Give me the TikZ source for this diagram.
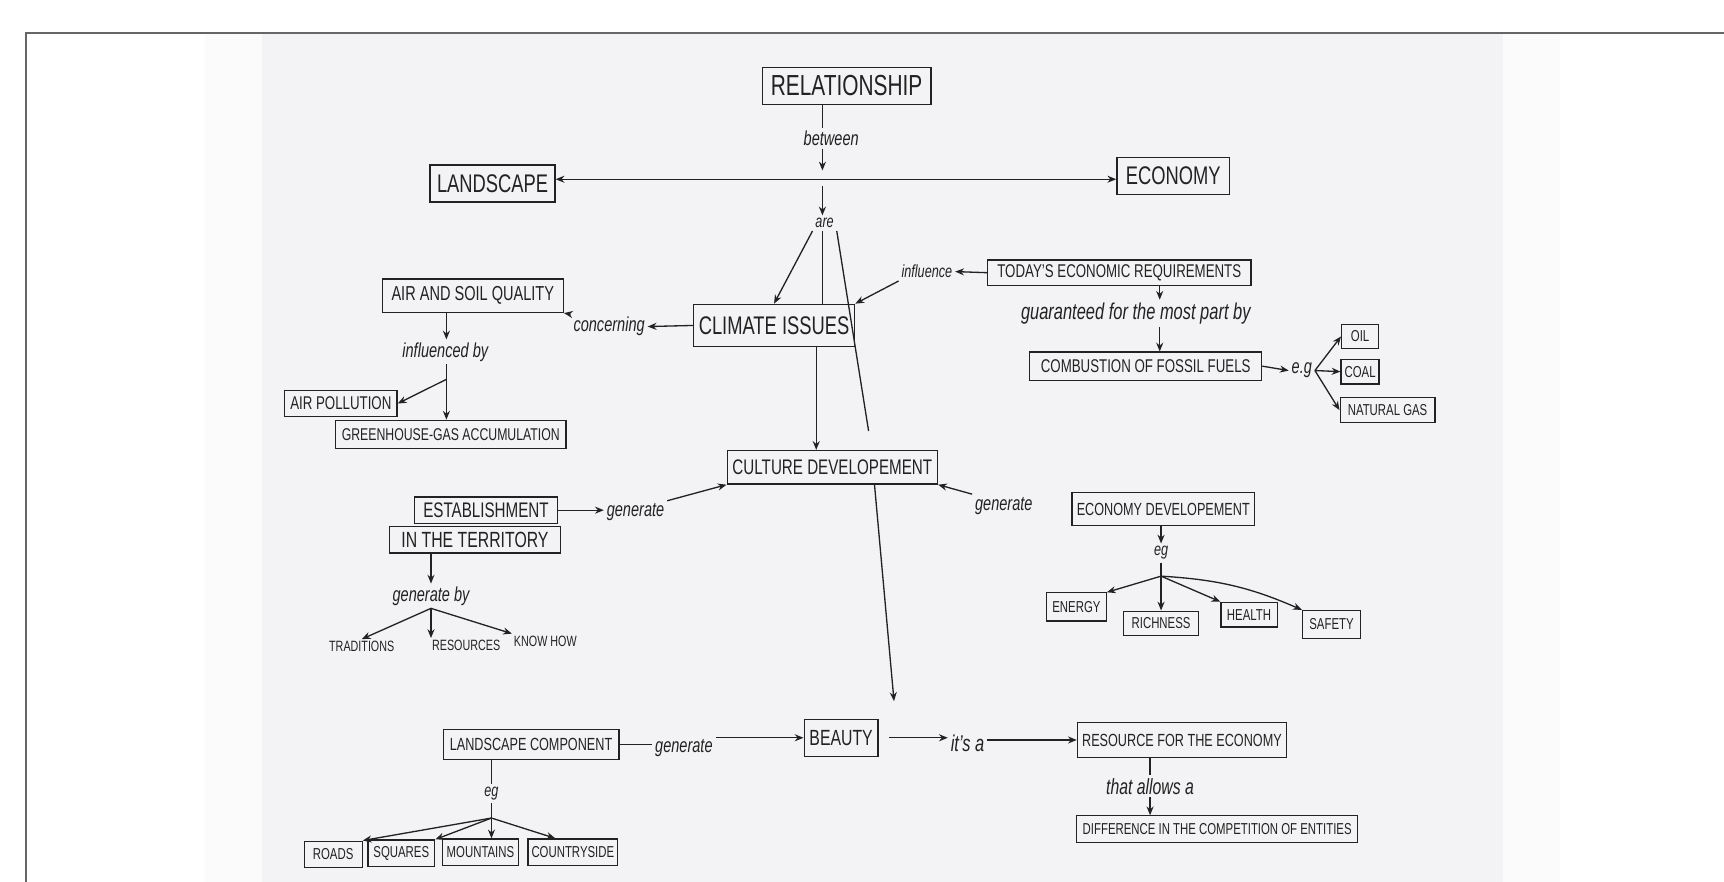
\documentclass[tikz,border=0pt]{standalone}
\usepackage{fontspec}
\setmainfont{Liberation Sans}[FakeStretch=0.72]
\usepackage{tikz}
\usetikzlibrary{positioning, arrows.meta}
\definecolor{pen}{HTML}{222222}
\definecolor{paper}{HTML}{F3F3F5}
\definecolor{paperedge}{HTML}{FBFBFB}
\definecolor{framegray}{HTML}{666666}

\begin{document}
\begin{tikzpicture}[
    x=0.02199cm, y=-0.02199cm,
    bigbox/.style={draw=pen, line width=0.8pt, text=pen, font=\fontsize{14.5}{16}\selectfont, inner sep=3pt, minimum height=21pt},
    box/.style={draw=pen, line width=0.7pt, text=pen, font=\fontsize{10.5}{12}\selectfont, inner sep=2.5pt, minimum height=16pt},
    smallbox/.style={box, font=\fontsize{9}{10}\selectfont, inner sep=2pt, minimum height=14pt},
    word/.style={text=pen, font=\itshape\fontsize{11.5}{13}\selectfont, inner sep=1.5pt},
    caps/.style={text=pen, font=\fontsize{8.5}{10}\selectfont, inner sep=1pt},
    edge/.style={-{Stealth[length=5pt, width=4pt]}, line width=0.75pt, pen},
    plainline/.style={line width=0.75pt, pen}
]
\useasboundingbox (0,0) rectangle (1568,802);

% Sheet of paper in the frame
\fill[white] (0,0) rectangle (1568,802);
\fill[paperedge] (186,31) rectangle (1419,802);
\fill[paper] (238,31) rectangle (1367,802);
\draw[framegray, line width=1.1pt] (23.6,802) -- (23.6,30) -- (1568,30);

% Top: relationship between landscape and economy
\node[bigbox, font=\fontsize{16.5}{18}\selectfont, minimum width=96pt] (rel) at (770,78) {RELATIONSHIP};
\node[word] (between) at (756,126) {between};
\coordinate (mid) at (748,163);
\node[bigbox, minimum width=71pt] (land) at (448,167) {LANDSCAPE};
\node[bigbox, minimum width=64pt] (econ) at (1067,160) {ECONOMY};
\node[word, font=\itshape\fontsize{10}{12}\selectfont] (are) at (750,203) {are};

% Climate issues
\node[bigbox, minimum width=91pt, minimum height=24pt] (climate) at (704,296) {CLIMATE ISSUES};
\node[word] (concern) at (554,297) {concerning};
\node[box, font=\fontsize{11.5}{13}\selectfont, minimum width=103pt, minimum height=19pt] (air) at (430,269) {AIR AND SOIL QUALITY};
\node[word] (inflby) at (405,320) {influenced by};
\coordinate (fork1) at (406,345);
\node[box, minimum width=64pt, minimum height=15pt] (pollu) at (310,367) {AIR POLLUTION};
\node[box, font=\fontsize{9.7}{11}\selectfont, minimum width=131pt] (green) at (410,395) {GREENHOUSE-GAS ACCUMULATION};

% Economic requirements
\node[box, minimum width=150pt, minimum height=14.5pt] (today) at (1018,248) {TODAY'S ECONOMIC REQUIREMENTS};
\node[word, font=\itshape\fontsize{10}{12}\selectfont] (infl) at (843,247) {influence};
\node[word, font=\itshape\fontsize{13}{15}\selectfont] (guar) at (1033,285) {guaranteed for the most part by};
\node[box, minimum width=132pt] (comb) at (1042,333) {COMBUSTION OF FOSSIL FUELS};
\node[word] (eg1) at (1184,337) {e.g};
\node[smallbox, minimum width=21pt] (oil) at (1237,306) {OIL};
\node[smallbox, minimum width=20pt] (coal) at (1237,338) {COAL};
\node[smallbox, minimum width=54pt] (gas) at (1262,373) {NATURAL GAS};

% Culture developement
\node[bigbox, font=\fontsize{12}{14}\selectfont, minimum width=118pt, minimum height=19pt] (cult) at (757,425) {CULTURE DEVELOPEMENT};
\coordinate (areend) at (790,392);
\node[box, font=\fontsize{12}{14}\selectfont, minimum width=81pt, minimum height=15pt] (estab) at (442,464) {ESTABLISHMENT};
\node[box, font=\fontsize{12.5}{14}\selectfont, minimum width=97pt, minimum height=15pt] (terr) at (432,491) {IN THE TERRITORY};
\node[word] (gen1) at (578,466) {generate};
\node[word] (gen2) at (913,460) {generate};
\node[word] (genby) at (392,542) {generate by};
\node[caps] (trad) at (329,588) {TRADITIONS};
\node[caps] (reso) at (424,587) {RESOURCES};
\node[caps] (know) at (496,583) {KNOW HOW};

% Economy developement
\node[box, font=\fontsize{10}{12}\selectfont, minimum width=104pt, minimum height=19pt] (ecodev) at (1058,463) {ECONOMY DEVELOPEMENT};
\node[word, font=\itshape\fontsize{10}{12}\selectfont] (eg2) at (1056,503) {eg};
\coordinate (fork2) at (1056,524);
\node[smallbox, minimum width=34pt, minimum height=16pt] (energy) at (979,552) {ENERGY};
\node[smallbox, minimum width=43pt] (rich) at (1056,567) {RICHNESS};
\node[smallbox, minimum width=32pt] (health) at (1136,559) {HEALTH};
\node[smallbox, minimum width=33pt, minimum height=16pt] (safety) at (1211,568) {SAFETY};

% Beauty
\node[bigbox, font=\fontsize{12.5}{14}\selectfont, minimum width=42pt] (beauty) at (765,671) {BEAUTY};
\node[box, font=\fontsize{10}{12}\selectfont, minimum width=100pt, minimum height=17pt] (lcomp) at (483,677) {LANDSCAPE COMPONENT};
\node[word] (gen3) at (622,680) {generate};
\node[word, font=\itshape\fontsize{13}{15}\selectfont] (itsa) at (880,676) {it's a};
\node[box, font=\fontsize{10}{12}\selectfont, minimum width=119pt, minimum height=20pt] (resou) at (1075,673) {RESOURCE FOR THE ECONOMY};
\node[word, font=\itshape\fontsize{12.5}{14}\selectfont] (allows) at (1046,715) {that allows a};
\node[smallbox, minimum width=160pt, minimum height=15pt] (diff) at (1107,754) {DIFFERENCE IN THE COMPETITION OF ENTITIES};
\node[word, font=\itshape\fontsize{10}{12}\selectfont] (eg3) at (447,722) {eg};
\coordinate (fork3) at (447,744);
\node[smallbox, minimum width=33pt, minimum height=15pt] (roads) at (303,777) {ROADS};
\node[smallbox, minimum width=38pt, minimum height=15pt] (squares) at (365,776) {SQUARES};
\node[smallbox, minimum width=43pt, minimum height=15pt] (mount) at (437,775) {MOUNTAINS};
\node[smallbox, minimum width=51pt, minimum height=15pt] (country) at (521,775) {COUNTRYSIDE};

% Edges
\draw[plainline] (rel.south -| mid) -- (between.north -| mid);
\draw[edge] (between.south -| mid) -- ([yshift=5pt]mid);
\draw[edge] (mid) -- (land.east |- mid);
\draw[edge] (mid) -- (econ.west |- mid);
\draw[edge] ([yshift=-4pt]mid) -- (are.north -| mid);
\draw[edge] (are.south west) -- (climate.north);
\draw[plainline] (are.south -| mid) -- (climate.north -| mid);
\draw[plainline] (are.south east) -- (areend);
\draw[edge] ([xshift=24pt]climate.south) -- ([xshift=24pt]climate.south |- cult.north);
\draw[edge] (today.west) -- (infl.east);
\draw[edge] (infl.south west) -- (climate.north east);
\draw[edge] ([xshift=23pt]today.south) -- ([xshift=23pt]today.south |- guar.north);
\draw[edge] ([xshift=8pt]comb.north |- guar.south) -- ([xshift=8pt]comb.north);
\draw[edge] (comb.east) -- (eg1.west);
\draw[edge] (eg1.east) -- (oil.west);
\draw[edge] (eg1.east) -- (coal.west);
\draw[edge] (eg1.east) -- (gas.west);
\draw[edge] (climate.west) -- (concern.east);
\draw[edge] (concern.north west) -- (air.south east);
\draw[edge] (air.south -| fork1) -- (inflby.north -| fork1);
\draw[plainline] (inflby.south -| fork1) -- (fork1);
\draw[edge] (fork1) -- (pollu.east);
\draw[edge] (fork1) -- (green.north -| fork1);
\draw[edge] (estab.east) -- (estab.east -| gen1.west);
\draw[edge] (gen1.north east) -- (cult.south west);
\draw[edge] (gen2.north west) -- (cult.south east);
\draw[edge] (terr.south -| genby) -- (genby.north);
\draw[edge] (genby.south) -- (trad.north);
\draw[edge] (genby.south) -- (reso.north -| genby.south);
\draw[edge] (genby.south) -- (know.north west);
\draw[edge] (ecodev.south -| eg2) -- (eg2.north);
\draw[plainline] (eg2.south) -- (fork2);
\draw[edge] (fork2) -- (energy.north east);
\draw[edge] (fork2) -- (rich.north);
\draw[edge] (fork2) -- (health.north west);
\draw[edge] (fork2) to[bend left=10] (safety.north west);
\draw[edge, shorten >=10pt] ([xshift=24pt]cult.south) -- ([xshift=31pt]beauty.north);
\draw[plainline] (lcomp.east) -- (lcomp.east -| gen3.west);
\draw[edge] (gen3.east |- beauty) -- (beauty.west);
\draw[edge, shorten <=6pt] (beauty.east) -- (beauty.east -| itsa.west);
\draw[edge] (itsa.east |- resou) -- (resou.west);
\draw[plainline] (resou.south -| allows) -- (allows.north);
\draw[edge] (allows.south) -- (diff.north -| allows);
\draw[plainline] (lcomp.south -| eg3) -- (eg3.north);
\draw[plainline] (eg3.south) -- (fork3);
\draw[edge] (fork3) -- (roads.north east);
\draw[edge] (fork3) -- (squares.north east);
\draw[edge] (fork3) -- (mount.north -| fork3);
\draw[edge] (fork3) -- ([xshift=-10pt]country.north);

\end{tikzpicture}
\end{document}
